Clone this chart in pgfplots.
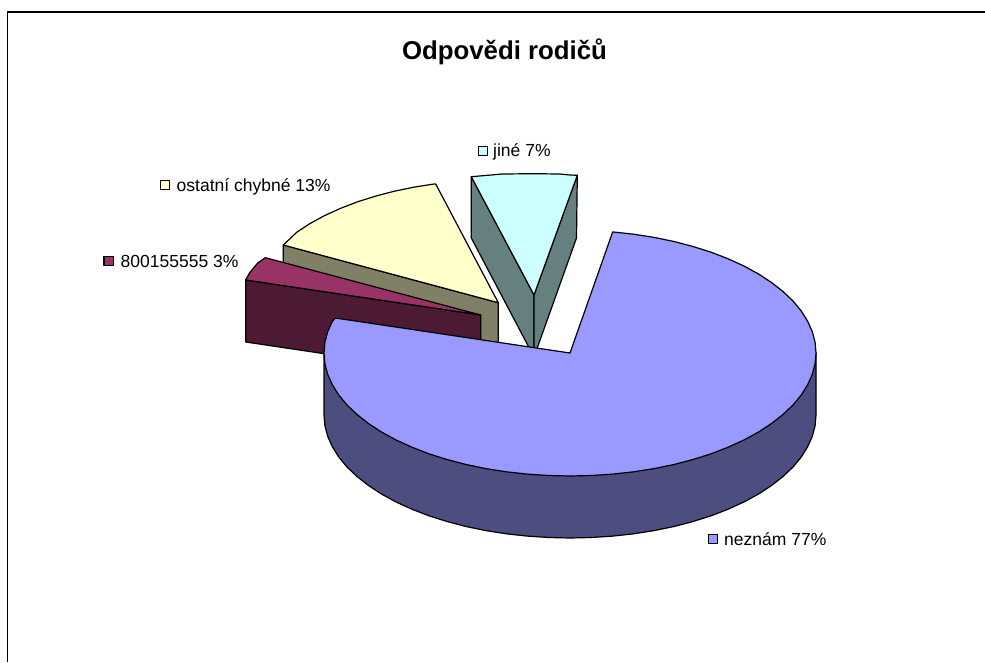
\documentclass[border=0pt]{standalone}
\usepackage{pgfplots}
\pgfplotsset{compat=1.18}
\usepackage{fontspec}
\setmainfont{Liberation Sans}
\definecolor{blueT}{HTML}{9999FF}
\definecolor{blueW}{HTML}{4D4D80}
\definecolor{creamT}{HTML}{FFFFCC}
\definecolor{creamW}{HTML}{808066}
\definecolor{magT}{HTML}{993366}
\definecolor{magW}{HTML}{4D1A33}
\definecolor{cyanT}{HTML}{CCFFFF}
\definecolor{cyanW}{HTML}{668080}
\begin{document}
\begin{tikzpicture}[x=1pt,y=1pt]
\useasboundingbox (0,0) rectangle (985,662);
\begin{axis}[at={(0,0)},anchor=south west,scale only axis,width=985pt,height=662pt,
  xmin=0,xmax=985,ymin=0,ymax=662,y dir=reverse,hide axis,clip=false,
  every axis plot/.append style={mark=none,line join=round,line width=1.2pt,draw=black}]
% frame
\addplot[line width=1.3pt] coordinates {(985,12)(7.3,12)(7.3,662)};
% jine
\addplot[fill=cyanW] coordinates {(471.3,176.7)(471.3,238)(534,357)(534,295)} -- cycle;
\addplot[fill=cyanW] coordinates {(577.3,175.3)(576.5,238)(534,357)(534,295)} -- cycle;
\addplot[fill=cyanT] coordinates {(471.3,176.7)(491,175)(502,174)(534,173.7)(560,174)(570,175)(577.3,175.3)(534,295)} -- cycle;
% ostatni chybne
\addplot[fill=creamW] coordinates {(283.3,245)(283.3,307)(498.3,364.7)(498.3,302.7)} -- cycle;
\addplot[fill=creamT] coordinates {(283.3,245)(296.8,232.2)(309.9,223.6)(324.4,215.7)(340.2,208.5)(357.2,201.9)(375.3,196.2)(394.3,191.2)(414.2,187.1)(434.6,183.9)(435.7,184)(498.3,302.7)} -- cycle;
% 800155555
\addplot[fill=magW] coordinates {(245.7,280)(245.7,342)(480.7,377)(480.7,315)} -- cycle;
\addplot[fill=magT] coordinates {(245.7,280)(249.5,272.9)(257.7,263)(265.3,257.7)(480.7,315)} -- cycle;
% neznam wall
\addplot[fill=blueW] coordinates {(816,353)(816,415)(815.1,425.7)(812.3,436.4)(807.6,446.8)(801.2,457.1)(793,467)(783,476.5)(771.5,485.5)(758.4,494.1)(743.9,502)(728.1,509.2)(711.1,515.8)(693,521.5)(674,526.5)(654.1,530.6)(633.7,533.8)(612.7,536.1)(591.4,537.5)(570,538)(548.6,537.5)(527.3,536.1)(506.3,533.8)(485.9,530.6)(466,526.5)(447,521.5)(428.9,515.8)(411.9,509.2)(396.1,502)(381.6,494.1)(368.5,485.5)(357,476.5)(347,467)(338.8,457.1)(332.4,446.8)(327.7,436.4)(324.9,425.7)(324,415)(324,353)} -- cycle;
% neznam top
\addplot[fill=blueT] coordinates {(570,353)(612.7,231.9)(633.7,234.2)(654.1,237.4)(674,241.5)(693,246.5)(711.1,252.2)(728.1,258.8)(743.9,266)(758.4,273.9)(771.5,282.5)(783,291.5)(793,301)(801.2,310.9)(807.6,321.2)(812.3,331.6)(815.1,342.3)(816,353)(815.1,363.7)(812.3,374.4)(807.6,384.8)(801.2,395.1)(793,405)(783,414.5)(771.5,423.5)(758.4,432.1)(743.9,440)(728.1,447.2)(711.1,453.8)(693,459.5)(674,464.5)(654.1,468.6)(633.7,471.8)(612.7,474.1)(591.4,475.5)(570,476)(548.6,475.5)(527.3,474.1)(506.3,471.8)(485.9,468.6)(466,464.5)(447,459.5)(428.9,453.8)(411.9,447.2)(396.1,440)(381.6,432.1)(368.5,423.5)(357,414.5)(347,405)(338.8,395.1)(332.4,384.8)(327.7,374.4)(324.9,363.7)(324,353)(324.9,342.3)(327.7,331.6)(332.4,321.2)(335.3,318)} -- cycle;
% legend keys
\addplot[only marks,mark=square*,mark size=4.6pt,mark options={fill=blueT,draw=black,line width=1.2pt}] coordinates {(713,539)};
\addplot[only marks,mark=square*,mark size=4.6pt,mark options={fill=cyanT,draw=black,line width=1.2pt}] coordinates {(483,151)};
\addplot[only marks,mark=square*,mark size=4.6pt,mark options={fill=creamT,draw=black,line width=1.2pt}] coordinates {(165,185)};
\addplot[only marks,mark=square*,mark size=4.6pt,mark options={fill=magT,draw=black,line width=1.2pt}] coordinates {(108.5,261)};
% texts
\node[anchor=base,font=\fontsize{25.8}{28}\selectfont\bfseries] at (axis cs:504.5,59.5) {Odpovědi rodičů};
\node[anchor=base west,inner sep=0pt,font=\fontsize{17.5}{20}\selectfont] at (axis cs:724,545) {neznám 77\%};
\node[anchor=base west,inner sep=0pt,font=\fontsize{17.5}{20}\selectfont] at (axis cs:493,156.5) {jiné 7\%};
\node[anchor=base west,inner sep=0pt,font=\fontsize{17.5}{20}\selectfont] at (axis cs:176.5,191) {ostatní chybné 13\%};
\node[anchor=base west,inner sep=0pt,font=\fontsize{17.5}{20}\selectfont] at (axis cs:120.5,267) {800155555 3\%};
\end{axis}
\end{tikzpicture}
\end{document}
